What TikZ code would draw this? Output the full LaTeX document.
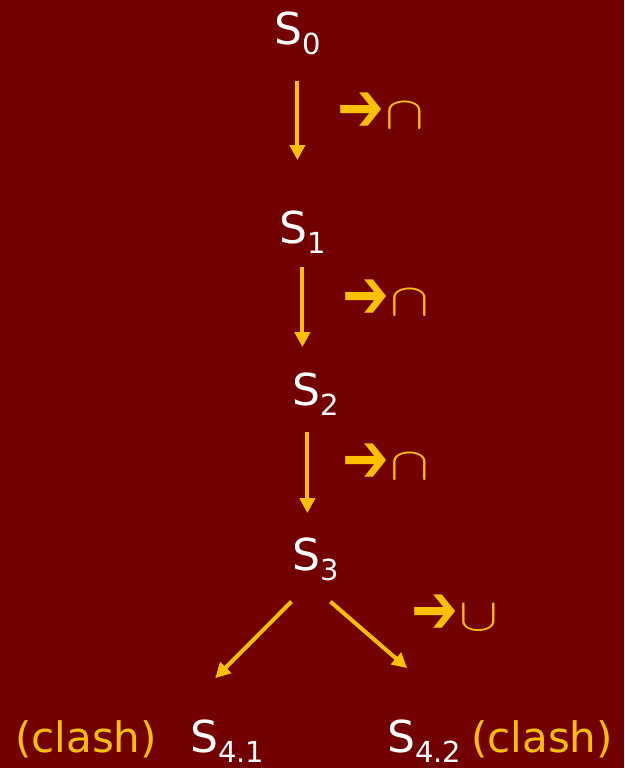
\documentclass[tikz,border=0pt]{standalone}
\usepackage{fontspec}
\usepackage{graphicx}
\setmainfont{DejaVu Sans}
\usetikzlibrary{arrows.meta}
\definecolor{MAROON}{HTML}{720000}
\definecolor{GOLD}{HTML}{FFC000}
\newcommand{\sub}[1]{\raisebox{-10pt}{\fontsize{29}{29}\selectfont #1}}
\newcommand{\opglyph}[1]{\raisebox{-3pt}{\fontsize{56}{56}\selectfont\scalebox{1}[1.25]{➔}}\hspace{1pt}\scalebox{5.8}[4.6]{$#1$}}
\begin{document}
\begin{tikzpicture}[x=1pt,y=-1pt]
\tikzset{state/.style={anchor=base west,inner sep=0pt,text=white,font=\fontsize{44}{44}\selectfont},
 note/.style={anchor=base west,inner sep=0pt,text=GOLD,font=\fontsize{42}{42}\selectfont},
 op/.style={anchor=base west,inner sep=0pt,text=GOLD},
 arr/.style={-{Triangle[length=15pt,width=15pt]},line width=4pt,GOLD}}
\fill[MAROON] (0,0) rectangle (624,768);
\node[state] (S0) at (274,45) {S\sub{0}};
\node[state] (S1) at (279,243) {S\sub{1}};
\node[state] (S2) at (292,405) {S\sub{2}};
\node[state] (S3) at (292,570) {S\sub{3}};
\node[state] (S41) at (190,752) {S\sub{4.1}};
\node[state] (S42) at (387,752) {S\sub{4.2}};
\node[note] (c1) at (15,752) {(clash)};
\node[note] (c2) at (471,752) {(clash)};
\node[op] (l1) at (337,128) {\opglyph{\cap}};
\node[op] (l2) at (342,315) {\opglyph{\cap}};
\node[op] (l3) at (342,479) {\opglyph{\cap}};
\node[op] (l4) at (411,630) {\opglyph{\cup}};
\draw[arr,shorten <=25pt,shorten >=50pt] (S0.south) -- (S0.south |- S1.north);
\draw[arr,shorten <=14pt,shorten >=25pt] (S1.south) -- (S1.south |- S2.north);
\draw[arr,shorten <=17pt,shorten >=24pt] ([xshift=-8pt]S2.south) -- ([xshift=-8pt]S2.south |- S3.north);
\draw[arr] ([xshift=-24pt,yshift=-21pt]S3.south) -- ([xshift=-12pt,yshift=41pt]S41.north);
\draw[arr] ([xshift=15pt,yshift=-21pt]S3.south) -- ([xshift=-17pt,yshift=51pt]S42.north);
\end{tikzpicture}
\end{document}
